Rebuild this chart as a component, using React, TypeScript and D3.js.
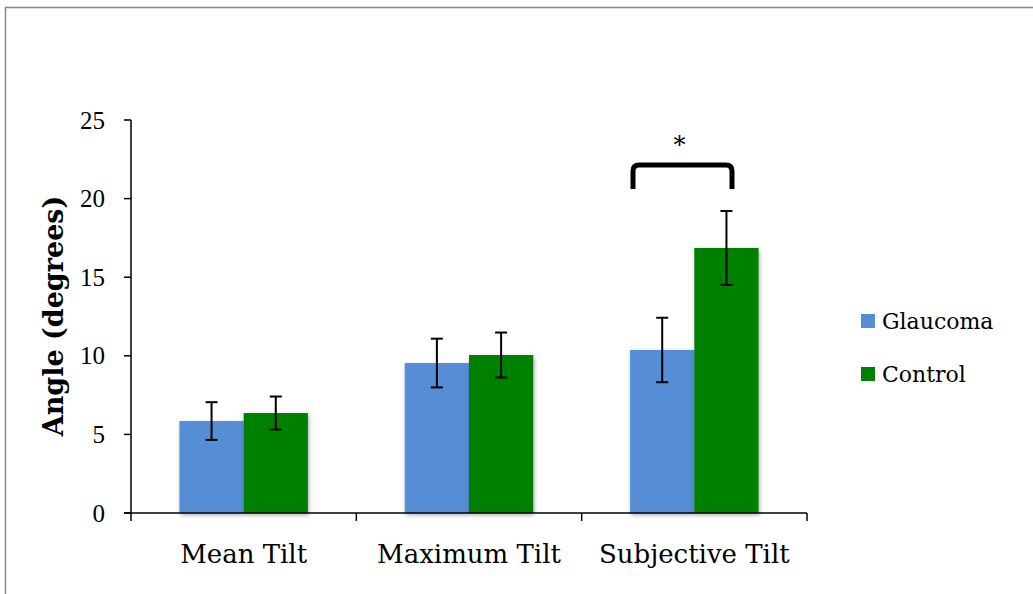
import React from "react";
import * as d3 from "d3";

const categories = ["Mean Tilt", "Maximum Tilt", "Subjective Tilt"];
const seriesNames = ["Glaucoma", "Control"];
const seriesColors = ["#558ED5", "#008000"];
const glaucomaValues = [5.85, 9.54, 10.37];
const glaucomaErr = [1.2, 1.55, 2.05];
const controlValues = [6.36, 10.05, 16.86];
const controlErr = [1.05, 1.43, 2.35];
const yTicks = [0, 5, 10, 15, 20, 25];

const W = 1033;
const H = 594;
const FONT = "'DejaVu Serif', serif";
const NUMFONT = "'Liberation Serif', serif";

export default function App() {
  const left = 131, right = 807, top = 120, bottom = 513;
  const x = d3.scaleBand<string>().domain(categories).range([left, right]).paddingInner(0.43).paddingOuter(0.215);
  const xs = d3.scaleBand<string>().domain(seriesNames).range([0, x.bandwidth()]);
  const y = d3.scaleLinear().domain([0, 25]).range([bottom, top]);
  const series = [
    { name: seriesNames[0], vals: glaucomaValues, errs: glaucomaErr, color: seriesColors[0] },
    { name: seriesNames[1], vals: controlValues, errs: controlErr, color: seriesColors[1] },
  ];
  const bounds = [left, left + (right - left) / 3, left + (2 * (right - left)) / 3, right];

  const bx0 = 633, bx1 = 732, byTop = 165, byBot = 189, r = 6;
  const bracketPath = `M${bx0},${byBot} L${bx0},${byTop + r} Q${bx0},${byTop} ${bx0 + r},${byTop} L${bx1 - r},${byTop} Q${bx1},${byTop} ${bx1},${byTop + r} L${bx1},${byBot}`;

  return (
    <svg width={W} height={H} style={{ position: "absolute", left: 0, top: 0 }} fontFamily={FONT}>
      <defs>
        <filter id="sh" x="-20%" y="-20%" width="140%" height="140%">
          <feGaussianBlur in="SourceAlpha" stdDeviation="2" />
          <feOffset dx="1" dy="2" result="b" />
          <feComponentTransfer><feFuncA type="linear" slope="0.35" /></feComponentTransfer>
          <feMerge><feMergeNode /><feMergeNode in="SourceGraphic" /></feMerge>
        </filter>
      </defs>
      <rect x={0} y={0} width={W} height={H} fill="#fff" />
      <path d={`M5.5,${H} L5.5,7.5 L${W},7.5`} fill="none" stroke="#888" strokeWidth={1.5} />

      {series.map((s) =>
        categories.map((c, i) => (
          <rect key={s.name + c} x={(x(c) as number) + (xs(s.name) as number)} y={y(s.vals[i])}
            width={xs.bandwidth()} height={y(0) - y(s.vals[i])} fill={s.color} filter="url(#sh)" />
        ))
      )}
      {series.map((s) =>
        categories.map((c, i) => {
          const cx = (x(c) as number) + (xs(s.name) as number) + xs.bandwidth() / 2;
          const y1 = y(s.vals[i] + s.errs[i]);
          const y2 = y(s.vals[i] - s.errs[i]);
          return (
            <g key={"e" + s.name + c} stroke="#000" strokeWidth={2}>
              <line x1={cx} x2={cx} y1={y1} y2={y2} />
              <line x1={cx - 6} x2={cx + 6} y1={y1} y2={y1} />
              <line x1={cx - 6} x2={cx + 6} y1={y2} y2={y2} />
            </g>
          );
        })
      )}

      <line x1={left} x2={left} y1={top} y2={bottom} stroke="#000" strokeWidth={1.5} />
      {yTicks.map((t) => (
        <g key={t}>
          <line x1={left - 7} x2={left} y1={y(t)} y2={y(t)} stroke="#000" strokeWidth={1.5} />
          <text x={left - 26} y={y(t)} dy="0.34em" textAnchor="end" fontSize={25} fontFamily={NUMFONT} fill="#000">{t}</text>
        </g>
      ))}
      <line x1={left - 7} x2={right} y1={bottom} y2={bottom} stroke="#000" strokeWidth={1.5} />
      {bounds.map((b, i) => (
        <line key={i} x1={b} x2={b} y1={bottom} y2={bottom + 8} stroke="#000" strokeWidth={1.5} />
      ))}
      {categories.map((c) => (
        <text key={c} x={(x(c) as number) + x.bandwidth() / 2} y={563} textAnchor="middle" fontSize={26} fill="#000">{c}</text>
      ))}
      <text transform={`translate(63,316) rotate(-90)`} textAnchor="middle" fontSize={27} fontWeight="bold" fill="#000">Angle (degrees)</text>

      <path d={bracketPath} fill="none" stroke="#000" strokeWidth={5} />
      <text x={(bx0 + bx1) / 2 - 3} y={153} textAnchor="middle" fontSize={24} fill="#000">*</text>

      {series.map((s, i) => (
        <g key={"l" + s.name} transform={`translate(861,${314 + i * 53})`}>
          <rect x={0} y={0} width={14} height={14} fill={s.color} />
          <text x={21} y={7} dy="0.36em" fontSize={22} fill="#000">{s.name}</text>
        </g>
      ))}
    </svg>
  );
}
